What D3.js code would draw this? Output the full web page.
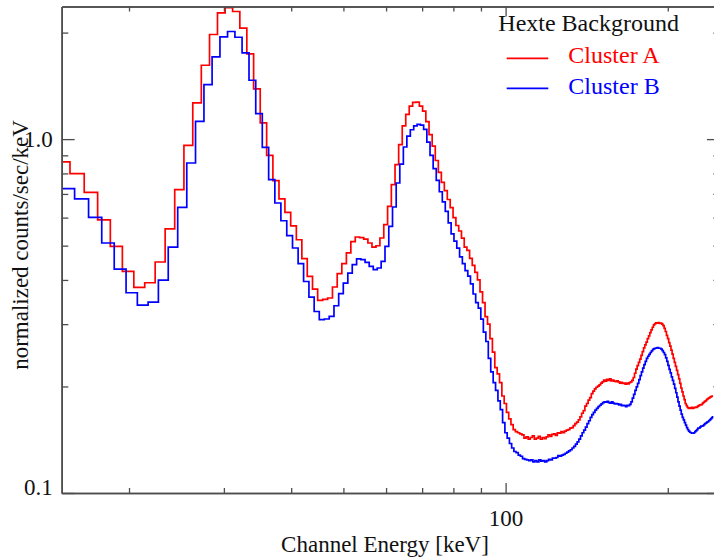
<!DOCTYPE html>
<html>
<head>
<meta charset="utf-8">
<script src="https://cdn.jsdelivr.net/npm/d3@7"></script>
<style>
  html, body { margin: 0; padding: 0; background: #ffffff; }
  svg { display: block; }
  text { font-family: "Liberation Serif", "Times New Roman", serif; }
</style>
</head>
<body>
<svg id="chart" width="714" height="560"></svg>
<script>
// ---------------- DATA ----------------
// Channel grid (keV): left edge of first listed bin, and bin width
const clusterABinStart = 14.565;
const clusterBBinStart = 14.875;
const binWidthKeV = 0.975;

// normalized counts/sec/keV, one value per channel bin
const clusterA = [
  0.862, 0.799, 0.707, 0.591, 0.4975, 0.4227, 0.381, 0.3928, 0.4495, 0.5573,
  0.720, 0.960, 1.266, 1.617, 1.975, 2.275, 2.354, 2.294, 2.058, 1.741,
  1.387, 1.111, 0.900, 0.763, 0.6775, 0.621, 0.569, 0.5196, 0.4594, 0.4093,
  0.377, 0.350, 0.3523, 0.3556, 0.382, 0.4166, 0.4446, 0.4768, 0.513, 0.529,
  0.527, 0.522, 0.5087, 0.4955, 0.4997, 0.5255, 0.573, 0.6455, 0.7436, 0.847,
  0.965, 1.09, 1.175, 1.24, 1.27, 1.272, 1.24, 1.2, 1.12, 1.03,
  0.955, 0.87, 0.805, 0.755, 0.715, 0.675, 0.64, 0.6, 0.57, 0.55,
  0.525, 0.495, 0.485, 0.46, 0.44, 0.42, 0.40, 0.37, 0.345, 0.315,
  0.30, 0.273, 0.25, 0.226, 0.217, 0.205, 0.188, 0.179, 0.169, 0.162,
  0.156, 0.151, 0.149, 0.148, 0.147, 0.146, 0.143, 0.144, 0.142, 0.1435,
  0.145, 0.142, 0.143, 0.1445, 0.142, 0.1435, 0.1425, 0.144, 0.146, 0.1445,
  0.1465, 0.147, 0.1455, 0.148, 0.1475, 0.149, 0.148, 0.1495, 0.1505, 0.151,
  0.1525, 0.153, 0.155, 0.157, 0.1585, 0.161, 0.164, 0.168, 0.171, 0.176,
  0.179, 0.183, 0.186, 0.191, 0.194, 0.197, 0.199, 0.2005, 0.202, 0.2045,
  0.206, 0.2085, 0.207, 0.2095, 0.208, 0.21, 0.2075, 0.2085, 0.207, 0.2065,
  0.2075, 0.206, 0.2045, 0.2055, 0.204, 0.2045, 0.203, 0.2045, 0.2035, 0.205,
  0.206, 0.208, 0.212, 0.218, 0.224, 0.229, 0.234, 0.239, 0.245, 0.251,
  0.257, 0.262, 0.267, 0.273, 0.278, 0.284, 0.289, 0.294, 0.2985, 0.301,
  0.3025, 0.302, 0.303, 0.3015, 0.302, 0.300, 0.297, 0.292, 0.286, 0.279,
  0.273, 0.266, 0.260, 0.2535, 0.247, 0.240, 0.234, 0.228, 0.222, 0.216,
  0.210, 0.204, 0.198, 0.193, 0.188, 0.1835, 0.179, 0.1765, 0.1745, 0.1735,
  0.174, 0.1735, 0.1745, 0.1735, 0.174, 0.1745, 0.175, 0.1745, 0.176, 0.1765,
  0.1775, 0.1775, 0.178, 0.1795, 0.1805, 0.1815, 0.182, 0.1835, 0.1845, 0.1855,
  0.186, 0.187, 0.1875, 0.188
];

const clusterB = [
  0.7245, 0.6775, 0.601, 0.5087, 0.4294, 0.368, 0.3397, 0.3464, 0.3996, 0.4955,
  0.6413, 0.856, 1.123, 1.426, 1.708, 1.9455, 2.014, 1.94, 1.753, 1.4665,
  1.181, 0.948, 0.768, 0.66, 0.588, 0.5334, 0.4924, 0.4446, 0.396, 0.3578,
  0.3258, 0.3088, 0.3102, 0.3155, 0.3382, 0.3657, 0.392, 0.4184, 0.4417, 0.4585,
  0.4564, 0.4484, 0.4369, 0.4275, 0.4323, 0.4513, 0.4975, 0.5666, 0.643, 0.7517,
  0.85, 0.95, 1.02, 1.063, 1.09, 1.10, 1.095, 1.065, 0.98, 0.9,
  0.825, 0.765, 0.71, 0.665, 0.625, 0.58, 0.54, 0.515, 0.492, 0.465,
  0.445, 0.425, 0.41, 0.39, 0.365, 0.345, 0.333, 0.31, 0.285, 0.268,
  0.24, 0.22, 0.205, 0.195, 0.182, 0.172, 0.158, 0.148, 0.143, 0.138,
  0.134, 0.131, 0.13, 0.128, 0.127, 0.125, 0.1245, 0.124, 0.1235, 0.124,
  0.1225, 0.1235, 0.1225, 0.124, 0.123, 0.1235, 0.1225, 0.1235, 0.1245, 0.124,
  0.1255, 0.1255, 0.126, 0.1275, 0.127, 0.128, 0.1285, 0.1295, 0.1305, 0.1315,
  0.1325, 0.134, 0.1355, 0.1375, 0.1395, 0.142, 0.145, 0.148, 0.1505, 0.1535,
  0.157, 0.16, 0.1635, 0.1665, 0.169, 0.1715, 0.1735, 0.1755, 0.177, 0.1785,
  0.18, 0.181, 0.1805, 0.1815, 0.18, 0.1795, 0.181, 0.1795, 0.1785, 0.179,
  0.1785, 0.1775, 0.178, 0.1765, 0.177, 0.1765, 0.1755, 0.177, 0.1765, 0.178,
  0.181, 0.1855, 0.19, 0.195, 0.1995, 0.204, 0.209, 0.2145, 0.22, 0.2255,
  0.2305, 0.2355, 0.24, 0.2435, 0.2465, 0.2495, 0.252, 0.2545, 0.256, 0.2565,
  0.257, 0.2575, 0.2565, 0.2565, 0.255, 0.2525, 0.2495, 0.246, 0.241, 0.2355,
  0.2295, 0.2235, 0.2185, 0.213, 0.208, 0.203, 0.1975, 0.192, 0.1865, 0.181,
  0.176, 0.1715, 0.167, 0.1635, 0.161, 0.158, 0.1555, 0.153, 0.151, 0.1495,
  0.1485, 0.148, 0.1475, 0.1475, 0.148, 0.149, 0.15, 0.151, 0.1525, 0.1525,
  0.1535, 0.1545, 0.1545, 0.155, 0.156, 0.157, 0.1575, 0.1585, 0.159, 0.16,
  0.161, 0.162, 0.163, 0.164
];

const xDomain = [15, 250];
const yDomain = [0.1, 2.37];
const xMajorTicks = [100];
const xMinorTicks = [20, 30, 40, 50, 60, 70, 80, 90, 200];
const yMajorTicks = [0.1, 1.0];
const yMinorTicks = [0.2, 0.3, 0.4, 0.5, 0.6, 0.7, 0.8, 0.9, 2.0];

const seriesNames = ["Cluster A", "Cluster B"];
const seriesColors = ["#ff0000", "#0000ff"];
const legendTitle = "Hexte Background";
const xTitle = "Channel Energy [keV]";
const yTitle = "normalized counts/sec/keV";

// ---------------- CHART ----------------
const svg = d3.select("#chart");
const W = 714, H = 560;
const plot = { left: 61.7, right: 720, top: 6.5, bottom: 493 };

svg.append("rect").attr("width", W).attr("height", H).attr("fill", "#fff");

const x = d3.scaleLog().domain(xDomain).range([plot.left, plot.right]);
const y = d3.scaleLog().domain(yDomain).range([plot.bottom, plot.top]);

svg.append("clipPath").attr("id", "clip")
  .append("rect")
  .attr("x", plot.left).attr("y", plot.top)
  .attr("width", plot.right - plot.left).attr("height", plot.bottom - plot.top);

function stepPoints(values, start) {
  const pts = values.map((v, i) => [start + i * binWidthKeV, v]);
  pts.push([start + values.length * binWidthKeV, values[values.length - 1]]);
  return pts;
}

const line = d3.line()
  .x(d => x(d[0]))
  .y(d => y(d[1]))
  .curve(d3.curveStepAfter);

const g = svg.append("g").attr("clip-path", "url(#clip)");
[[clusterA, clusterABinStart], [clusterB, clusterBBinStart]].forEach(([vals, start], i) => {
  g.append("path")
    .datum(stepPoints(vals, start))
    .attr("d", line)
    .attr("fill", "none")
    .attr("stroke", seriesColors[i])
    .attr("stroke-width", 1.7)
    .attr("stroke-linejoin", "miter");
});

// ---- axes ----
const axisColor = "#4d4d4d";
function styleAxis(sel) {
  sel.selectAll(".domain").attr("stroke", axisColor).attr("stroke-width", 1.6);
  sel.selectAll(".tick line").attr("stroke", axisColor).attr("stroke-width", 1.3);
  sel.selectAll("text").attr("fill", "#111").attr("font-size", 23)
    .attr("font-family", '"Liberation Serif", "Times New Roman", serif');
}

// bottom
const bottomMajor = svg.append("g").attr("transform", `translate(0,${plot.bottom})`)
  .call(d3.axisBottom(x).tickValues(xMajorTicks).tickSize(-10).tickSizeOuter(0)
    .tickPadding(17).tickFormat(d3.format("d")));
styleAxis(bottomMajor);
const bottomMinor = svg.append("g").attr("transform", `translate(0,${plot.bottom})`)
  .call(d3.axisBottom(x).tickValues(xMinorTicks).tickSize(-5).tickSizeOuter(0).tickFormat(""));
styleAxis(bottomMinor);
// top
const topMajor = svg.append("g").attr("transform", `translate(0,${plot.top})`)
  .call(d3.axisTop(x).tickValues(xMajorTicks).tickSize(-10).tickSizeOuter(0).tickFormat(""));
styleAxis(topMajor);
const topMinor = svg.append("g").attr("transform", `translate(0,${plot.top})`)
  .call(d3.axisTop(x).tickValues(xMinorTicks).tickSize(-5).tickSizeOuter(0).tickFormat(""));
styleAxis(topMinor);
// left
const leftMajor = svg.append("g").attr("transform", `translate(${plot.left},0)`)
  .call(d3.axisLeft(y).tickValues(yMajorTicks).tickSize(-13).tickSizeOuter(0)
    .tickPadding(9).tickFormat(d3.format(".1f")));
styleAxis(leftMajor);
leftMajor.selectAll(".tick text").filter(d => d === 0.1).attr("dy", "0.06em");
const leftMinor = svg.append("g").attr("transform", `translate(${plot.left},0)`)
  .call(d3.axisLeft(y).tickValues(yMinorTicks).tickSize(-6.6).tickSizeOuter(0).tickFormat(""));
styleAxis(leftMinor);
// right
const rightMajor = svg.append("g").attr("transform", `translate(${plot.right},0)`)
  .call(d3.axisRight(y).tickValues(yMajorTicks).tickSize(-13).tickSizeOuter(0).tickFormat(""));
styleAxis(rightMajor);
const rightMinor = svg.append("g").attr("transform", `translate(${plot.right},0)`)
  .call(d3.axisRight(y).tickValues(yMinorTicks).tickSize(-6.6).tickSizeOuter(0).tickFormat(""));
styleAxis(rightMinor);

// titles
svg.append("text")
  .attr("x", 385).attr("y", 552)
  .attr("text-anchor", "middle")
  .attr("font-size", 23).attr("fill", "#111")
  .text(xTitle);

svg.append("text")
  .attr("transform", "translate(28,245) rotate(-90)")
  .attr("text-anchor", "middle")
  .attr("font-size", 23).attr("fill", "#111")
  .text(yTitle);

// legend
svg.append("text")
  .attr("x", 498.3).attr("y", 30.7)
  .attr("font-size", 24).attr("fill", "#111")
  .text(legendTitle);

seriesNames.forEach((name, i) => {
  const ly = [58.3, 88.3][i];
  svg.append("line")
    .attr("x1", 506.7).attr("x2", 548.3)
    .attr("y1", ly).attr("y2", ly)
    .attr("stroke", seriesColors[i]).attr("stroke-width", 1.7);
  svg.append("text")
    .attr("x", 568.3).attr("y", [63.3, 94][i])
    .attr("font-size", 24).attr("fill", seriesColors[i])
    .text(name);
});
</script>
</body>
</html>
